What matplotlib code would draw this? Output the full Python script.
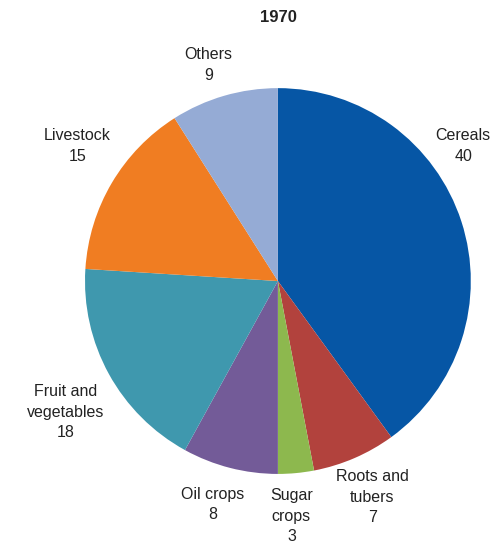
import matplotlib
matplotlib.use("Agg")
import matplotlib.pyplot as plt

categories = ["Cereals", "Roots and\ntubers", "Sugar\ncrops", "Oil crops", "Fruit and\nvegetables", "Livestock", "Others"]
values = [40, 7, 3, 8, 18, 15, 9]
colors = ["#0656A5", "#B2423D", "#8DB84E", "#735B98", "#3F98AE", "#F07D22", "#95ABD5"]
title = "1970"

plt.rcParams["font.family"] = ["Liberation Sans", "DejaVu Sans"]

fig = plt.figure(figsize=(5.03, 5.49), dpi=100)
ax = fig.add_axes([0.169, 0.1366, 0.767, 0.703])
ax.pie(values, colors=colors, startangle=90, counterclock=False, radius=1)
ax.set_xlim(-1, 1)
ax.set_ylim(-1, 1)
ax.set_aspect("equal")

label_pos = [(0.96, 0.70), (0.49, -1.12), (0.07, -1.22), (-0.34, -1.16), (-1.10, -0.68), (-1.04, 0.70), (-0.36, 1.12)]
for cat, v, (x, y) in zip(categories, values, label_pos):
    ax.text(x, y, f"{cat}\n{v}", ha="center", va="center", fontsize=11.5, color="#222222", linespacing=1.45, clip_on=False)

fig.text(0.553, 1 - 17 / 549, title, ha="center", va="center", fontsize=12, fontweight="bold", color="#222222")
fig.savefig("out.png", dpi=100)
